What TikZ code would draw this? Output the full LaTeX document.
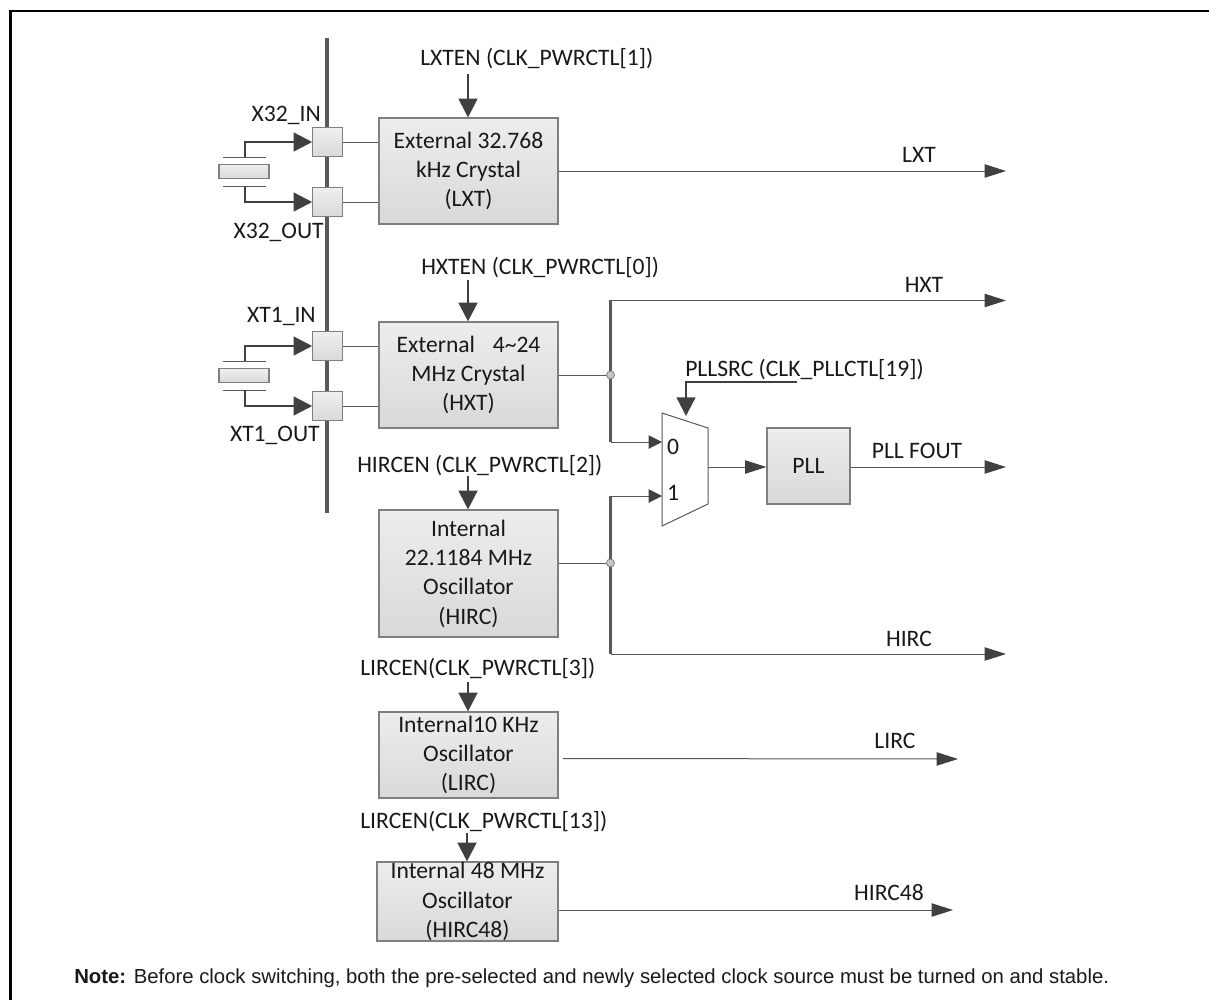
\documentclass[tikz,border=0pt]{standalone}
\usepackage{fontspec}
\setmainfont{Carlito}
\newfontfamily\notefont{Liberation Sans}
\usetikzlibrary{arrows.meta}
\definecolor{ln}{HTML}{595959}
\definecolor{dk}{HTML}{404040}
\definecolor{bd}{HTML}{7F7F7F}
\tikzset{
  x=0.75pt,y=-0.75pt,
  blk/.style={draw=bd,line width=0.9pt,top color=black!7,bottom color=black!15,align=center,font=\fontsize{17.7}{22}\selectfont,inner sep=0pt,text=black!90},
  pad/.style={draw=bd,line width=0.9pt,top color=black!6,bottom color=black!15,minimum size=22pt,inner sep=0pt},
  lab/.style={font=\fontsize{17.7}{20}\selectfont,text=black!90,inner sep=0pt},
  wire/.style={draw=ln,line width=0.75pt},
  arrS/.style={-{Triangle[length=14pt,width=14pt,color=dk]},draw=dk,line width=1.8pt},
  arrO/.style={-{Triangle[length=16pt,width=10pt,color=dk]},draw=ln,line width=0.75pt},
  arrI/.style={-{Triangle[length=10pt,width=10pt,color=dk]},draw=ln,line width=0.75pt},
  bus/.style={draw=ln,line width=2.6pt},
}
\newcommand{\blkbox}[6]{\node[blk,minimum width=#4*0.75pt,minimum height=#5*0.75pt] (#1) at (#2,#3) {#6};}
\begin{document}
\begin{tikzpicture}
\useasboundingbox (0,0) rectangle (1209,1000);
\draw[line width=2pt,black] (10.5,1000) -- (10.5,11) -- (1209,11);
% bus
\coordinate (bust) at (327,38);
\coordinate (busb) at (327,513);
\draw[bus] (bust) -- (busb);
% blocks
\blkbox{lxt}{468.5}{171}{179}{106}{External 32.768\\kHz Crystal\\(LXT)}
\blkbox{hxt}{468.5}{375}{179}{106}{External\hspace{0.75em}4\textasciitilde24\\MHz Crystal\\(HXT)}
\blkbox{hirc}{468.5}{573.5}{179}{127}{Internal\\22.1184 MHz\\Oscillator\\(HIRC)}
\blkbox{lirc}{468.5}{755}{179}{86}{Internal10 KHz\\Oscillator\\(LIRC)}
\blkbox{hircf}{467.5}{901.5}{181}{79}{Internal 48 MHz\\Oscillator\\(HIRC48)}
\blkbox{pll}{808.5}{466}{83}{76}{PLL}
% pads
\node[pad] (p1) at (327.5,142) {};
\node[pad] (p2) at (327.5,202) {};
\node[pad] (p3) at (327.5,346) {};
\node[pad] (p4) at (327.5,406) {};
\draw[wire] (p1.east) -- (p1.east -| lxt.west);
\draw[wire] (p2.east) -- (p2.east -| lxt.west);
\draw[wire] (p3.east) -- (p3.east -| hxt.west);
\draw[wire] (p4.east) -- (p4.east -| hxt.west);
% crystals
\node[pad,minimum width=37.5pt,minimum height=11pt] (c1) at (244,171.5) {};
\node[pad,minimum width=37.5pt,minimum height=11pt] (c2) at (244,375.5) {};
\coordinate (c1a) at (245,157); \coordinate (c1b) at (245,186);
\coordinate (c2a) at (245,361); \coordinate (c2b) at (245,390);
\draw[wire] (223,157) -- (266,157) (223,186) -- (266,186);
\draw[wire] (223,361) -- (266,361) (223,390) -- (266,390);
\draw[arrS] (c1a) |- (p1.west);
\draw[arrS] (c1b) |- (p2.west);
\draw[arrS] (c2a) |- (p3.west);
\draw[arrS] (c2b) |- (p4.west);
% pad labels
\node[lab,anchor=east] (l1) at (321,115) {X32\_IN};
\node[lab,anchor=east] (l2) at (324,232) {X32\_OUT};
\node[lab,anchor=east] (l3) at (316,316) {XT1\_IN};
\node[lab,anchor=east] (l4) at (320,435) {XT1\_OUT};
% enables
\node[lab,anchor=west] (e1) at (420,59) {LXTEN (CLK\_PWRCTL[1])};
\node[lab,anchor=west] (e2) at (421,267) {HXTEN (CLK\_PWRCTL[0])};
\node[lab,anchor=west] (e3) at (357,465) {HIRCEN (CLK\_PWRCTL[2])};
\node[lab,anchor=west] (e4) at (360,668) {LIRCEN(CLK\_PWRCTL[3])};
\node[lab,anchor=west] (e5) at (360,821) {LIRCEN(CLK\_PWRCTL[13])};
\coordinate (a1) at (468,74); \coordinate (a2) at (468,280);
\coordinate (a3) at (468,476); \coordinate (a4) at (468,682); \coordinate (a5) at (467,833);
\draw[arrS] (a1) -- (lxt.north -| a1);
\draw[arrS] (a2) -- (hxt.north -| a2);
\draw[arrS] (a3) -- (hirc.north -| a3);
\draw[arrS] (a4) -- (lirc.north -| a4);
\draw[arrS] (a5) -- (hircf.north -| a5);
% outputs
\coordinate (o1) at (1006,171);
\coordinate (o2) at (1006,300.5);
\coordinate (o3) at (1006,467);
\coordinate (o4) at (1006,654);
\coordinate (o5) at (958,759);
\coordinate (o6) at (953,910);
\draw[arrO] (lxt.east) -- (o1);
\node[lab] (tlxt) at (919,155) {LXT};
\coordinate (j1) at (610.5,375);
\coordinate (j2) at (610.5,563);
\coordinate (m0) at (662,442);
\coordinate (m1) at (662,496);
\draw[wire] (hxt.east |- j1) -- (j1);
\draw[bus] (610.5,300) -- (610.5,442);
\draw[arrO] (610.5,300.5) -- (o2);
\draw[arrI] (610.5,442) -- (m0);
\node[lab] (thxt) at (924,285) {HXT};
\draw[wire] (hirc.east |- j2) -- (j2);
\draw[bus] (610.5,496) -- (610.5,654);
\draw[arrI] (610.5,496) -- (m1);
\draw[arrO] (610.5,654) -- (o4);
\node[lab] (thirc) at (909,639) {HIRC};
\fill[black!22,draw=bd,line width=0.6pt] (j1) circle (4);
\fill[black!22,draw=bd,line width=0.6pt] (j2) circle (4);
% mux
\draw[wire,fill=white] (662,413) -- (708,428) -- (708,504) -- (662,526) -- cycle;
\node[lab] (t0) at (673,447) {0};
\node[lab] (t1) at (673,493) {1};
\coordinate (muxo) at (708,467);
\coordinate (muxs) at (686,416);
\draw[arrO] (muxo) -- (muxo -| pll.west);
\draw[arrO] (muxo -| pll.east) -- (o3);
\node[lab] (tpll) at (917,451) {PLL FOUT};
\coordinate (s0) at (797,382);
\draw[arrS] (s0) -- (686,382) -- (muxs);
\node[lab,anchor=west] (tsel) at (685,369) {PLLSRC (CLK\_PLLCTL[19])};
\draw[arrO] (563,758.5) -- (o5);
\node[lab] (tlirc) at (895,741) {LIRC};
\draw[arrO] (hircf.east |- o6) -- (o6);
\node[lab] (thircf) at (889,893) {HIRC48};
\node[font=\notefont\fontsize{15.25}{18}\selectfont,inner sep=0pt,anchor=west,text=black!90] (note) at (74,978) {\textbf{Note:} Before clock switching, both the pre-selected and newly selected clock source must be turned on and stable.};
\end{tikzpicture}
\end{document}
